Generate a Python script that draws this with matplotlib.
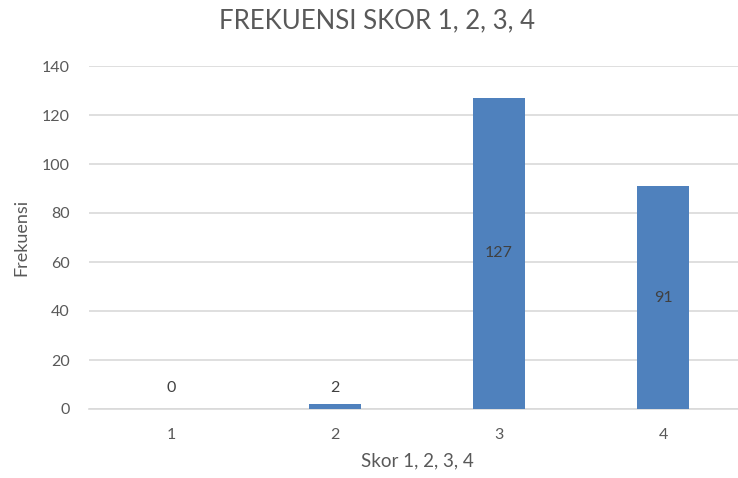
import matplotlib
matplotlib.use("Agg")
import matplotlib.pyplot as plt

# Chart data
categories = ["1", "2", "3", "4"]
frequencies = [0, 2, 127, 91]
y_ticks = [0, 20, 40, 60, 80, 100, 120, 140]

bar_color = "#4F81BD"
text_color = "#595959"
grid_color = "#D9D9D9"

plt.rcParams["font.family"] = ["Lato", "DejaVu Sans"]

fig = plt.figure(figsize=(7.38, 4.78), dpi=100)
ax = fig.add_axes([89 / 738, 69 / 478, 656 / 738, 343 / 478])

x = range(len(categories))
bars = ax.bar(x, frequencies, width=0.32, color=bar_color, zorder=3)

# value labels: centred inside tall bars, above short ones
for rect, val in zip(bars, frequencies):
    cx = rect.get_x() + rect.get_width() / 2
    if val > 20:
        ax.text(cx, val / 2, str(val), ha="center", va="center",
                fontsize=11.5, color="#404040", zorder=4)
    else:
        ax.annotate(str(val), (cx, 0), xytext=(0, 15), textcoords="offset points",
                    ha="center", va="center", fontsize=11.5, color="#404040")

ax.set_xlim(-0.5, len(categories) - 0.5)
ax.set_ylim(0, 140)
ax.set_yticks(y_ticks)
ax.set_xticks(list(x))
ax.set_xticklabels(categories)
ax.yaxis.grid(True, color=grid_color, linewidth=1.2, zorder=0)
ax.tick_params(axis="both", length=0, labelsize=11.5, labelcolor=text_color)
ax.tick_params(axis="y", pad=14)
ax.tick_params(axis="x", pad=14)
for side in ["top", "right", "left"]:
    ax.spines[side].set_visible(False)
ax.spines["bottom"].set_color(grid_color)
ax.spines["bottom"].set_linewidth(1.2)

ax.set_xlabel("Skor 1, 2, 3, 4", fontsize=13.5, color=text_color, labelpad=7)
ax.set_ylabel("Frekuensi", fontsize=13, color=text_color, labelpad=9)
fig.text(377 / 738, 1 - 21 / 478, "FREKUENSI SKOR 1, 2, 3, 4", ha="center",
         va="center", fontsize=18.5, color=text_color)

fig.savefig("out.png", dpi=100)
